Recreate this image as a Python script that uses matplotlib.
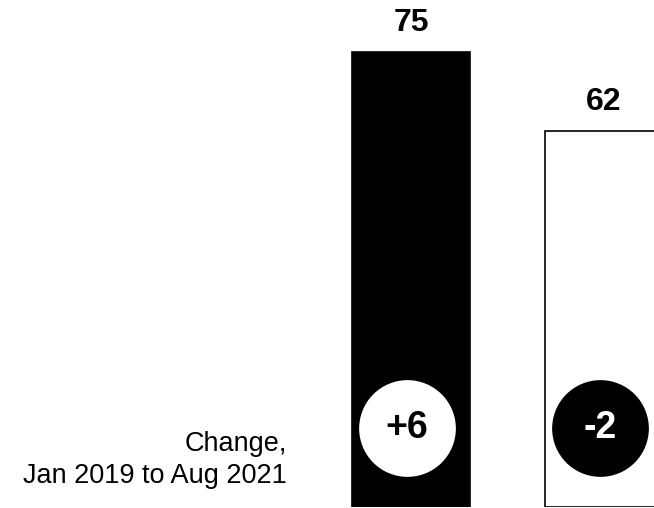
import matplotlib
matplotlib.use("Agg")
import matplotlib.pyplot as plt

plt.rcParams['font.family'] = ['Liberation Sans', 'DejaVu Sans']

# Values
groups = ['A', 'B']
values = [75, 62]
changes = ['+6', '-2']
change_note = 'Change,\nJan 2019 to Aug 2021'

fig = plt.figure(figsize=(6.54, 5.08), dpi=100)
ax = fig.add_axes([0, 1 / 508, 1, 1 - 1 / 508])

x = [0, 1]
fills = ['black', 'white']
ax.bar(x, values, width=0.611, color=fills, edgecolor='black', linewidth=1.2)

for xi, v in zip(x, values):
    ax.annotate(str(v), (xi, v), xytext=(0, 21), textcoords='offset points',
                ha='center', va='center', fontsize=23, fontweight='bold')

# Change badges near the bottom of each bar
badge_y = 13.0
badge_fill = ['white', 'black']
badge_text = ['black', 'white']
for xi, ch, bf, bt in zip(x, changes, badge_fill, badge_text):
    ax.scatter([xi - 0.02], [badge_y], s=4850, color=bf, zorder=3, linewidths=0)
    ax.text(xi - 0.02, badge_y, ch, ha='center', va='center', fontsize=27,
            fontweight='bold', color=bt, zorder=4)

ax.set_xlim(-2.13, 1.259)
ax.set_ylim(0, 83.57)
ax.axis('off')

fig.text(287 / 654, (508 - 483) / 508, change_note, ha='right', va='baseline',
         multialignment='right', fontsize=19.5, linespacing=1.32)

fig.savefig('out.png', dpi=100)
